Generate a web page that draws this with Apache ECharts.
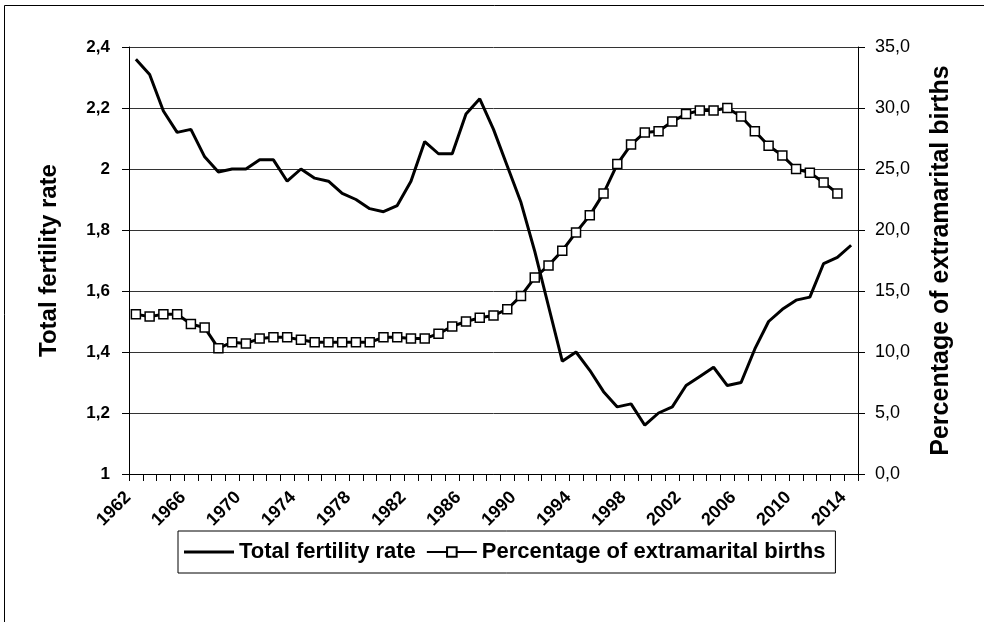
<!DOCTYPE html>
<html>
<head>
<meta charset="utf-8">
<script src="https://cdn.jsdelivr.net/npm/echarts@6/dist/echarts.min.js"></script>
<style>
  html, body { margin: 0; padding: 0; background: #fff; }
  #chart { width: 984px; height: 622px; }
</style>
</head>
<body>
<div id="chart"></div>
<script>
var years = ['1962','1963','1964','1965','1966','1967','1968','1969','1970','1971',
             '1972','1973','1974','1975','1976','1977','1978','1979','1980','1981',
             '1982','1983','1984','1985','1986','1987','1988','1989','1990','1991',
             '1992','1993','1994','1995','1996','1997','1998','1999','2000','2001',
             '2002','2003','2004','2005','2006','2007','2008','2009','2010','2011',
             '2012','2013','2014'];

// total fertility rate (left axis)
var fertility = [2.36, 2.31, 2.19, 2.12, 2.13, 2.04, 1.99, 2.00, 2.00, 2.03,
                 2.03, 1.96, 2.00, 1.97, 1.96, 1.92, 1.90, 1.87, 1.86, 1.88,
                 1.96, 2.09, 2.05, 2.05, 2.18, 2.23, 2.13, 2.01, 1.89, 1.73,
                 1.55, 1.37, 1.40, 1.34, 1.27, 1.22, 1.23, 1.16, 1.20, 1.22,
                 1.29, 1.32, 1.35, 1.29, 1.30, 1.41, 1.50, 1.54, 1.57, 1.58,
                 1.69, 1.71, 1.75];

// percentage of extramarital births (right axis)
var extramarital = [13.1, 12.9, 13.1, 13.1, 12.3, 12.0, 10.3, 10.8, 10.7, 11.1,
                    11.2, 11.2, 11.0, 10.8, 10.8, 10.8, 10.8, 10.8, 11.2, 11.2,
                    11.1, 11.1, 11.5, 12.1, 12.5, 12.8, 13.0, 13.5, 14.6, 16.1,
                    17.1, 18.3, 19.8, 21.2, 23.0, 25.4, 27.0, 28.0, 28.1, 28.9,
                    29.5, 29.8, 29.8, 30.0, 29.3, 28.1, 26.9, 26.1, 25.0, 24.7,
                    23.9, 23.0, null];

var seriesNames = ['Total fertility rate', 'Percentage of extramarital births'];

var font = "'Liberation Sans', Arial, sans-serif";

var myChart = echarts.init(document.getElementById('chart'));

var option = {
    backgroundColor: '#fff',
    animation: false,
    graphic: [
        {
            type: 'rect',
            shape: { x: 4.5, y: 5.5, width: 1100, height: 1100 },
            style: { fill: 'none', stroke: '#000', lineWidth: 1 },
            silent: true
        }
    ],
    grid: { left: 129, right: 126, top: 47, bottom: 148 },
    legend: {
        data: [
            // plain line sample, no marker (like the original)
            { name: seriesNames[0], icon: 'path://M0,0L50,0L50,3L0,3Z', itemStyle: { color: '#000' } },
            { name: seriesNames[1] }
        ],
        left: 178,
        top: 531,
        orient: 'horizontal',
        padding: [10, 10, 10, 6],
        itemGap: 10,
        itemWidth: 50,
        itemHeight: 12,
        borderColor: '#000',
        borderWidth: 1,
        textStyle: { fontFamily: font, fontWeight: 'bold', fontSize: 22, color: '#000' }
    },
    xAxis: {
        type: 'category',
        data: years,
        boundaryGap: true,
        axisLine: { lineStyle: { color: '#000', width: 1 } },
        axisTick: { show: true, interval: 0, length: 7, lineStyle: { color: '#000' } },
        axisLabel: {
            interval: 3,
            rotate: 45,
            margin: 13,
            padding: [0, 11, 0, 0],
            fontFamily: font,
            fontWeight: 'bold',
            fontSize: 18,
            color: '#000'
        },
        splitLine: { show: false }
    },
    yAxis: [
        {
            type: 'value',
            name: 'Total fertility rate',
            nameLocation: 'middle',
            nameRotate: 90,
            nameGap: 68,
            nameTextStyle: { fontFamily: font, fontWeight: 'bold', fontSize: 24, color: '#000' },
            min: 1,
            max: 2.4,
            interval: 0.2,
            axisLine: { show: true, lineStyle: { color: '#000', width: 1 } },
            axisTick: { show: true, length: 7, lineStyle: { color: '#000' } },
            axisLabel: {
                margin: 19,
                fontFamily: font,
                fontWeight: 'bold',
                fontSize: 17,
                color: '#000',
                formatter: function (v) { return String(+v.toFixed(1)).replace('.', ','); }
            },
            splitLine: { show: true, lineStyle: { color: '#333', width: 1 } }
        },
        {
            type: 'value',
            name: 'Percentage of extramarital births',
            nameLocation: 'middle',
            nameRotate: 90,
            nameGap: 71,
            nameTextStyle: { fontFamily: font, fontWeight: 'bold', fontSize: 25, color: '#000' },
            min: 0,
            max: 35,
            interval: 5,
            position: 'right',
            axisLine: { show: true, lineStyle: { color: '#000', width: 1 } },
            axisTick: { show: true, length: 7, lineStyle: { color: '#000' } },
            axisLabel: {
                margin: 17,
                fontFamily: font,
                fontSize: 18,
                color: '#000',
                formatter: function (v) { return v.toFixed(1).replace('.', ','); }
            },
            splitLine: { show: false }
        }
    ],
    series: [
        {
            name: seriesNames[0],
            type: 'line',
            yAxisIndex: 0,
            data: fertility,
            symbol: 'none',
            lineStyle: { color: '#000', width: 3 },
            itemStyle: { color: '#000' }
        },
        {
            name: seriesNames[1],
            type: 'line',
            yAxisIndex: 1,
            data: extramarital,
            symbol: 'rect',
            symbolSize: 9,
            lineStyle: { color: '#000', width: 3 },
            itemStyle: { color: '#fff', borderColor: '#000', borderWidth: 1.5 }
        }
    ]
};

option && myChart.setOption(option);
</script>
</body>
</html>
